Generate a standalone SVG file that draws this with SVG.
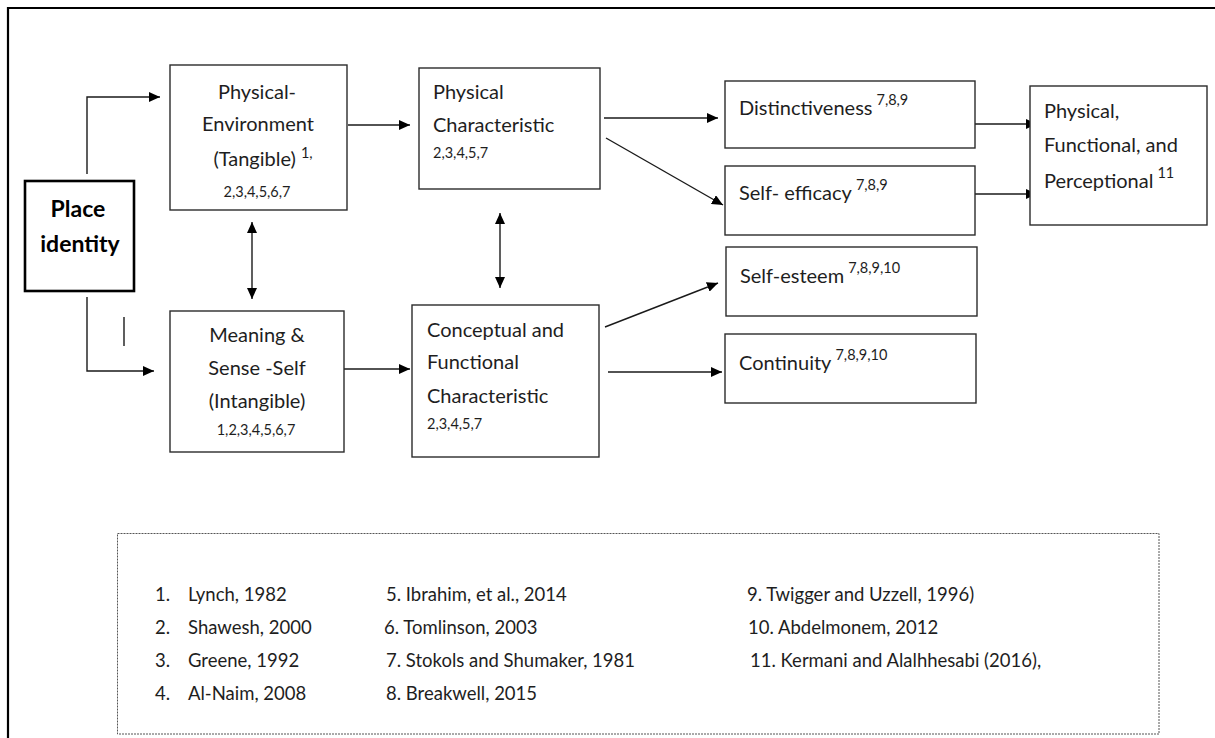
<svg xmlns="http://www.w3.org/2000/svg" width="1215" height="738" viewBox="0 0 1215 738">
  <style>
    .box { fill: #ffffff; stroke: #2b2b2b; stroke-width: 1.4; }
    .main { fill: #ffffff; stroke: #000000; stroke-width: 2.6; }
    .t { font-family: Lato, "Liberation Sans", sans-serif; font-size: 20px; fill: #1e1e1e; }
    .c { text-anchor: middle; }
    .small { font-family: Lato, "Liberation Sans", sans-serif; font-size: 14.5px; fill: #1e1e1e; }
    .sup { font-size: 14.5px; }
    .bold { font-family: Lato, "Liberation Sans", sans-serif; font-size: 23px; font-weight: bold; fill: #000000; text-anchor: middle; }
    .leg { font-family: Lato, "Liberation Sans", sans-serif; font-size: 18.5px; fill: #1e1e1e; }
    .conn { fill: none; stroke: #1a1a1a; stroke-width: 1.4; }
  </style>
  <defs>
    <marker id="arrow" viewBox="0 0 11 10" refX="11" refY="5" markerWidth="11" markerHeight="10" markerUnits="userSpaceOnUse" orient="auto-start-reverse">
      <path d="M0,0 L11,5 L0,10 Z" fill="#000000"/>
    </marker>
  </defs>

  <!-- page frame (top and left edges only) -->
  <path d="M8,738 V8 H1215" fill="none" stroke="#000000" stroke-width="2.2"/>

  <!-- connectors -->
  <g id="connectors">
    <path class="conn" d="M87,174 V97 H160" marker-end="url(#arrow)"/>
    <path class="conn" d="M87,297 V371 H154" marker-end="url(#arrow)"/>
    <path class="conn" d="M124,317 V346"/>
    <path class="conn" d="M252,222 V299" marker-start="url(#arrow)" marker-end="url(#arrow)"/>
    <path class="conn" d="M500,213 V288" marker-start="url(#arrow)" marker-end="url(#arrow)"/>
    <path class="conn" d="M348,125 H410" marker-end="url(#arrow)"/>
    <path class="conn" d="M344,369 H410" marker-end="url(#arrow)"/>
    <path class="conn" d="M604,118 H718" marker-end="url(#arrow)"/>
    <path class="conn" d="M606,138 L723,205" marker-end="url(#arrow)"/>
    <path class="conn" d="M605,327 L718,283" marker-end="url(#arrow)"/>
    <path class="conn" d="M608,372 H722" marker-end="url(#arrow)"/>
    <path class="conn" d="M972,124 H1037" marker-end="url(#arrow)"/>
    <path class="conn" d="M969,194 H1037" marker-end="url(#arrow)"/>
  </g>

  <g id="place-identity">
    <rect class="main" x="25" y="181" width="109" height="110"/>
    <text class="bold" x="78" y="217">Place</text>
    <text class="bold" x="80" y="252">identity</text>
  </g>

  <g id="physical-environment">
    <rect class="box" x="170" y="65" width="177" height="145"/>
    <text class="t c" x="257" y="99">Physical-</text>
    <text class="t c" x="258" y="131">Environment</text>
    <text class="t c" x="263" y="166">(Tangible)<tspan class="sup" dx="5" dy="-8">1,</tspan></text>
    <text class="small c" x="257" y="197">2,3,4,5,6,7</text>
  </g>

  <g id="meaning-sense-self">
    <rect class="box" x="170" y="311" width="174" height="141"/>
    <text class="t c" x="257" y="342">Meaning &amp;</text>
    <text class="t c" x="257" y="375">Sense -Self</text>
    <text class="t c" x="257" y="408">(Intangible)</text>
    <text class="small c" x="256" y="435">1,2,3,4,5,6,7</text>
  </g>

  <g id="physical-characteristic">
    <rect class="box" x="419" y="68" width="181" height="121"/>
    <text class="t" x="433" y="99">Physical</text>
    <text class="t" x="433" y="132">Characteristic</text>
    <text class="small" x="433" y="158">2,3,4,5,7</text>
  </g>

  <g id="conceptual-functional">
    <rect class="box" x="412" y="305" width="187" height="152"/>
    <text class="t" x="427" y="337">Conceptual and</text>
    <text class="t" x="427" y="369">Functional</text>
    <text class="t" x="427" y="403">Characteristic</text>
    <text class="small" x="427" y="429">2,3,4,5,7</text>
  </g>

  <g id="distinctiveness">
    <rect class="box" x="725" y="81" width="250" height="67"/>
    <text class="t" x="739" y="115">Distinctiveness<tspan class="sup" dx="4" dy="-10">7,8,9</tspan></text>
  </g>

  <g id="self-efficacy">
    <rect class="box" x="725" y="166" width="250" height="69"/>
    <text class="t" x="739" y="200">Self- efficacy<tspan class="sup" dx="4" dy="-10">7,8,9</tspan></text>
  </g>

  <g id="self-esteem">
    <rect class="box" x="726" y="247" width="251" height="69"/>
    <text class="t" x="740" y="283">Self-esteem<tspan class="sup" dx="4" dy="-10">7,8,9,10</tspan></text>
  </g>

  <g id="continuity">
    <rect class="box" x="725" y="334" width="251" height="69"/>
    <text class="t" x="739" y="370">Continuity<tspan class="sup" dx="4" dy="-10">7,8,9,10</tspan></text>
  </g>

  <g id="physical-functional-perceptional">
    <rect class="box" x="1030" y="86" width="177" height="139"/>
    <text class="t" x="1044" y="118">Physical,</text>
    <text class="t" x="1044" y="152">Functional, and</text>
    <text class="t" x="1044" y="188">Perceptional<tspan class="sup" dx="4" dy="-10">11</tspan></text>
  </g>

  <g id="references">
    <rect x="117.5" y="533.5" width="1041.5" height="200.5" fill="none" stroke="#555555" stroke-width="1" stroke-dasharray="2,1"/>
    <text class="leg" x="155" y="601">1.</text><text class="leg" x="188" y="601">Lynch, 1982</text>
    <text class="leg" x="155" y="634">2.</text><text class="leg" x="188" y="634">Shawesh, 2000</text>
    <text class="leg" x="155" y="667">3.</text><text class="leg" x="188" y="667">Greene, 1992</text>
    <text class="leg" x="155" y="700">4.</text><text class="leg" x="188" y="700">Al-Naim, 2008</text>
    <text class="leg" x="386" y="601">5. Ibrahim, et al., 2014</text>
    <text class="leg" x="384" y="634">6. Tomlinson, 2003</text>
    <text class="leg" x="386" y="667">7. Stokols and Shumaker, 1981</text>
    <text class="leg" x="386" y="700">8. Breakwell, 2015</text>
    <text class="leg" x="747" y="601">9. Twigger and Uzzell, 1996)</text>
    <text class="leg" x="748" y="634">10. Abdelmonem, 2012</text>
    <text class="leg" x="750" y="667">11. Kermani and Alalhhesabi (2016),</text>
  </g>
</svg>
